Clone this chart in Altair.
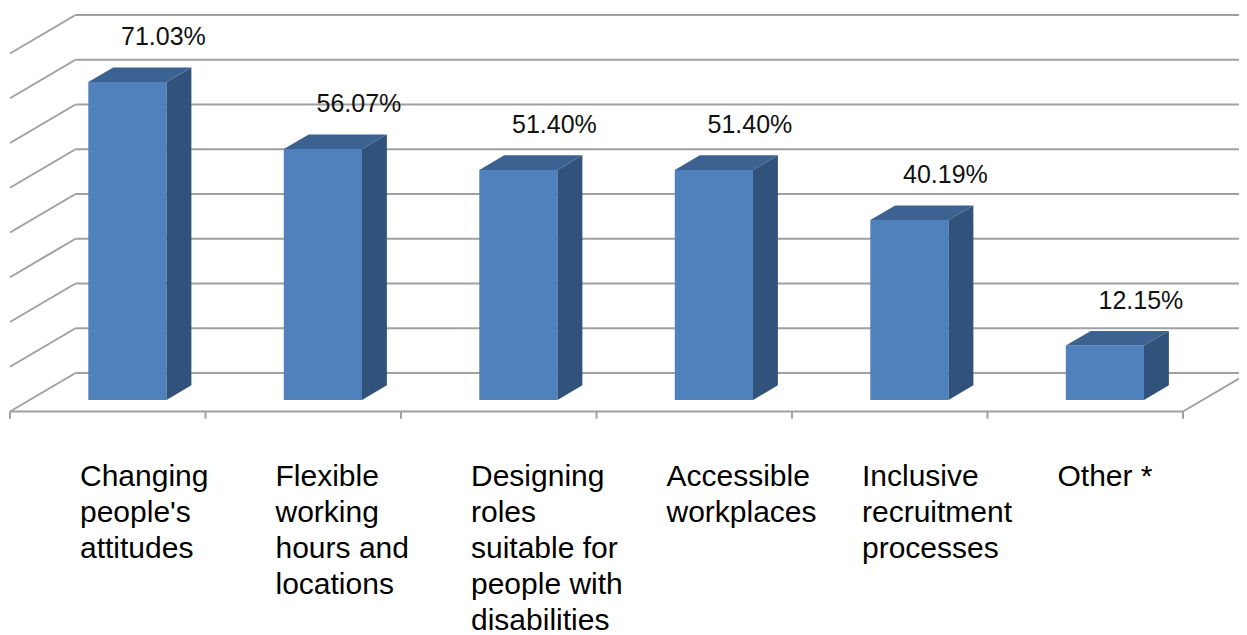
import altair as alt
import pandas as pd

# ---------------- data ----------------
categories = [
    "Changing people's attitudes",
    "Flexible working hours and locations",
    "Designing roles suitable for people with disabilities",
    "Accessible workplaces",
    "Inclusive recruitment processes",
    "Other *",
]
label_lines = [
    ["Changing", "people's", "attitudes"],
    ["Flexible", "working", "hours and", "locations"],
    ["Designing", "roles", "suitable for", "people with", "disabilities"],
    ["Accessible", "workplaces"],
    ["Inclusive", "recruitment", "processes"],
    ["Other *"],
]
values = [71.03, 56.07, 51.40, 51.40, 40.19, 12.15]
grid_values = [0, 10, 20, 30, 40, 50, 60, 70, 80]

# ---------------- layout (3D projection constants) ----------------
W, H = 1231, 627
SLOT_PX = 195.5           # px per category slot
PX_PER_PCT = 4.475        # px per percentage point
DX = 65.5 / SLOT_PX       # depth shift in slot units (full depth)
DY = 38.5 / PX_PER_PCT    # depth shift in percent units (full depth)
D_FRONT, D_BACK = 0.30, 0.68   # bar depth range (0 = front, 1 = back)
BAR_LO, BAR_HI = 0.30, 0.70    # bar extent within slot
N = len(values)

x_min = -2.0 / SLOT_PX
x_max = x_min + W / SLOT_PX
y_max = (411.5 - 8) / PX_PER_PCT
y_min = y_max - H / PX_PER_PCT

xs = alt.Scale(domain=[x_min, x_max], nice=False, zero=False)
ys = alt.Scale(domain=[y_min, y_max], nice=False, zero=False)


def X(f):
    return alt.X(f, type="quantitative", scale=xs, axis=None)


def Y(f):
    return alt.Y(f, type="quantitative", scale=ys, axis=None)


# gridlines: back wall + left wall diagonals
grid_rows = []
for g in grid_values:
    grid_rows.append(dict(x=DX, y=g + DY, x2=N + DX, y2=g + DY))
    grid_rows.append(dict(x=0, y=g, x2=DX, y2=g + DY))
# floor front edge and right edge
grid_rows.append(dict(x=0, y=0, x2=N, y2=0))
grid_rows.append(dict(x=N, y=0, x2=N + DX, y2=DY))
df_grid = pd.DataFrame(grid_rows)

df_ticks = pd.DataFrame([dict(x=i, y=0, y2=-1.6) for i in range(N + 1)])

front_rows, side_rows, top_rows, vlab_rows, clab_rows = [], [], [], [], []
for i, (v, lines) in enumerate(zip(values, label_lines)):
    xl = i + BAR_LO
    xr = i + BAR_HI
    front_rows.append(dict(id=i, x=xl + D_FRONT * DX, x2=xr + D_FRONT * DX,
                           y=D_FRONT * DY, y2=v + D_FRONT * DY))
    for d in (D_FRONT, D_BACK):
        side_rows.append(dict(id=i, x=xr + d * DX, y=d * DY, y2=v + d * DY))
        top_rows.append(dict(id=i, y=v + d * DY, x=xl + d * DX, x2=xr + d * DX))
    cx = (xl + xr) / 2 + D_FRONT * DX
    vlab_rows.append(dict(x=cx + 36 / SLOT_PX, y=v + D_FRONT * DY + 45 / PX_PER_PCT,
                          text=f"{v:.2f}%"))
    clab_rows.append(dict(x=i + 70 / SLOT_PX, y=-(486 - 411.5) / PX_PER_PCT,
                          text="\n".join(lines), cat=categories[i]))

df_front = pd.DataFrame(front_rows)
df_side = pd.DataFrame(side_rows)
df_top = pd.DataFrame(top_rows)
df_vlab = pd.DataFrame(vlab_rows)
df_clab = pd.DataFrame(clab_rows)

grid = alt.Chart(df_grid).mark_rule(color="#A0A0A0", strokeWidth=2).encode(
    x=X("x"), y=Y("y"), x2=alt.X2("x2"), y2=alt.Y2("y2"))
ticks = alt.Chart(df_ticks).mark_rule(color="#A0A0A0", strokeWidth=2).encode(
    x=X("x"), y=Y("y"), y2=alt.Y2("y2"))

front = alt.Chart(df_front).mark_rect(color="#4F81BD").encode(
    x=X("x"), x2=alt.X2("x2"), y=Y("y"), y2=alt.Y2("y2"))
side = alt.Chart(df_side).mark_area(orient="vertical", color="#31527A").encode(
    x=X("x"), y=Y("y"), y2=alt.Y2("y2"), detail="id:N")
top = alt.Chart(df_top).mark_area(orient="horizontal", color="#3C6291").encode(
    y=Y("y"), x=X("x"), x2=alt.X2("x2"), detail="id:N")

vlab = alt.Chart(df_vlab).mark_text(
    font="Liberation Sans", fontSize=25, color="#111111", align="center", baseline="middle"
).encode(x=X("x"), y=Y("y"), text="text:N")

clab = alt.Chart(df_clab).mark_text(
    font="Liberation Sans", fontSize=30, color="#000000", align="left",
    baseline="alphabetic", lineBreak="\n", lineHeight=36
).encode(x=X("x"), y=Y("y"), text="text:N")

chart = alt.layer(grid, ticks, front, side, top, vlab, clab).properties(
    width=W, height=H, padding=0, autosize=alt.AutoSizeParams(type="none")
).configure_view(stroke=None)

chart.save("out.html", embed_options={"renderer": "svg", "actions": False})
